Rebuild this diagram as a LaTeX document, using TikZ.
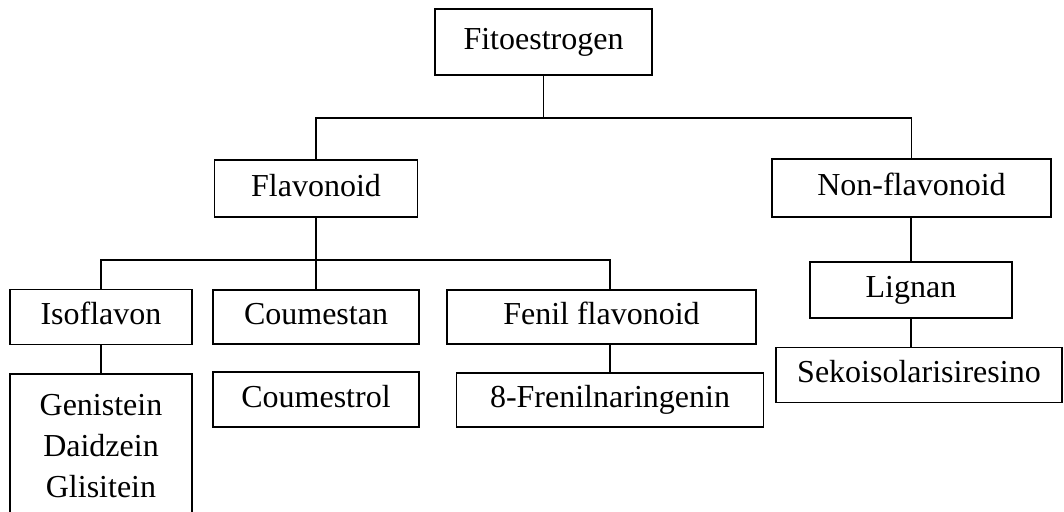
\documentclass[tikz,border=0pt]{standalone}
\usepackage{fontspec}
\setmainfont{Liberation Serif}
\usetikzlibrary{positioning}

\begin{document}
\begin{tikzpicture}[x=1pt,y=-1pt,
    thick,box node/.style={rectangle,draw,line width=1.8pt,inner sep=0pt,
      font=\fontsize{32}{41}\selectfont,text height=22pt,text depth=7pt},
    link/.style={-,line width=1.8pt}]
    \useasboundingbox (0,0) rectangle (1064,511);
    \clip (0,0) rectangle (1064,511);
    \begin{scope}
      \node[box node,minimum width=217pt,minimum height=66pt] (fito) at (543.5,42) {Fitoestrogen};
      \node[box node,minimum width=203pt,minimum height=57pt] (flav) at (316,188.5) {Flavonoid};
      \node[box node,minimum width=279pt,minimum height=58pt] (nonflav) at (911.5,188) {Non-flavonoid};

      \node[box node,minimum width=182pt,minimum height=55pt] (iso) at (101,317) {Isoflavon};
      \node[box node,minimum width=206pt,minimum height=54pt] (coum) at (316,317) {Coumestan};
      \node[box node,minimum width=309pt,minimum height=54pt] (fenil) at (601.5,317) {Fenil flavonoid};
      \node[box node,minimum width=202pt,minimum height=56pt] (lignan) at (911,290) {Lignan};

      \node[box node,minimum width=182pt,anchor=north,inner ysep=20pt,align=center,
            text height=,text depth=] (gen) at (101,373) {Genistein\\Daidzein\\Glisitein\\[20pt]};
      \node[box node,minimum width=206pt,minimum height=55pt] (coumol) at (316,399.5) {Coumestrol};
      \node[box node,minimum width=307pt,minimum height=54pt] (fren) at (610,400) {8-Frenilnaringenin};
      \node[box node,minimum width=286pt,minimum height=55pt] (seko) at (919,375) {Sekoisolarisiresino};

      \coordinate (j1) at (543.5,118);
      \coordinate (j2) at (316,260);

      \path[link] (fito) edge (j1);
      \draw[link] (flav.north) |- (j1) -| (nonflav.north);
      \path[link] (flav) edge (j2);
      \draw[link] (iso.north) |- (j2) -| ([xshift=8.5pt]fenil.north);
      \path[link] (j2) edge (coum);
      \path[link] (iso) edge (gen);
      \path[link] (fren.north) edge (fren.north |- fenil.south);
      \path[link] (nonflav.south -| lignan) edge (lignan);
      \path[link] (lignan.south) edge (lignan.south |- seko.north);
    \end{scope}
  \end{tikzpicture}
\end{document}
